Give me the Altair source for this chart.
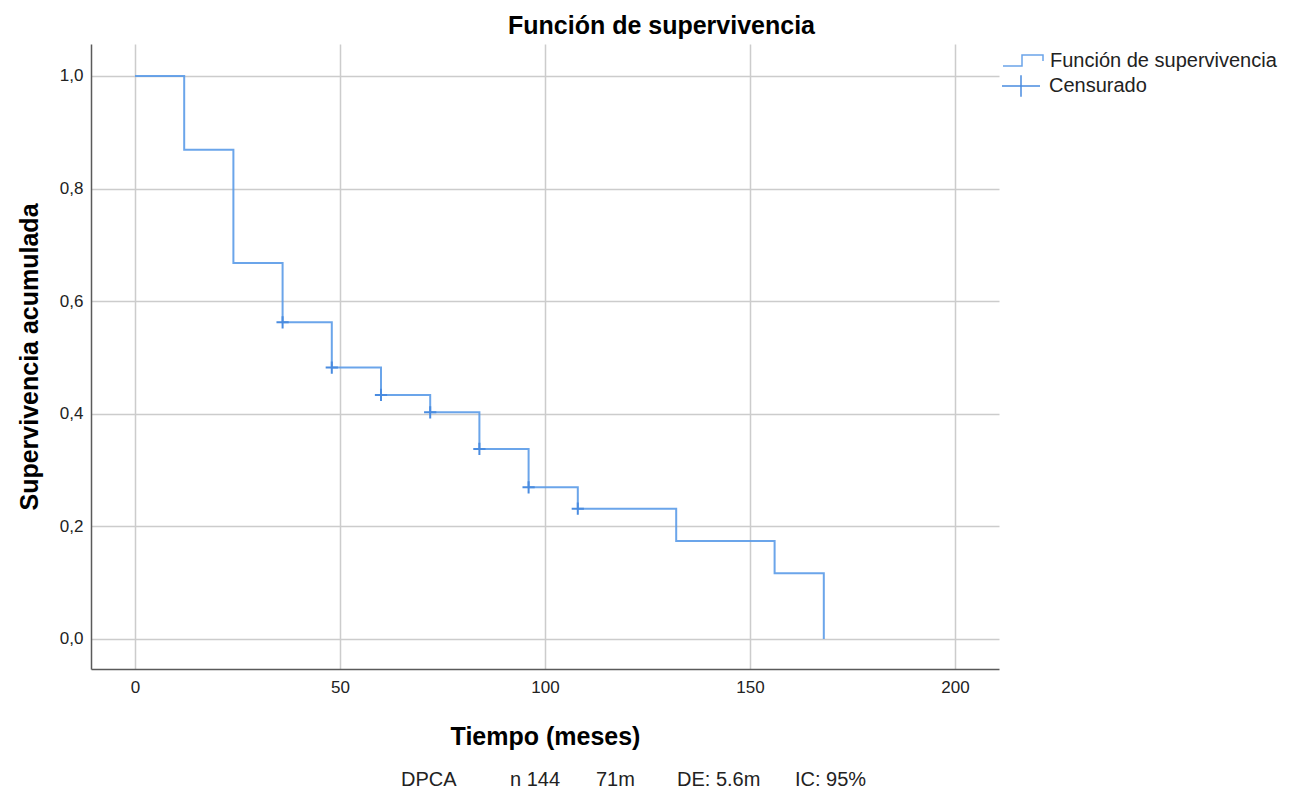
import altair as alt
import pandas as pd

# ---- data ----
tiempo = [0, 12, 24, 36, 48, 60, 72, 84, 96, 108, 132, 156, 168]
supervivencia = [1.0, 0.869, 0.668, 0.5625, 0.482, 0.4334, 0.4026, 0.3375, 0.2694, 0.2315, 0.174, 0.1167, 0.0]
censura_tiempo = [36, 48, 60, 72, 84, 96, 108]
censura_superv = [0.5625, 0.482, 0.4334, 0.4026, 0.3375, 0.2694, 0.2315]
x_ticks = [0, 50, 100, 150, 200]
y_ticks = [0.0, 0.2, 0.4, 0.6, 0.8, 1.0]
serie_nombre = ["Función de supervivencia"]
censura_nombre = ["Censurado"]
titulo = "Función de supervivencia"
pie_textos = ["DPCA", "n 144", "71m", "DE: 5.6m", "IC: 95%"]

# ---- layout (pixels, relative to the plot area) ----
pie_x = [310, 419, 505, 586, 704]
PIE_Y = 742
TITULO_X = 570.5
TITULO_Y = -10

FONT = "Liberation Sans, Arial, sans-serif"
BLUE = "#5b9be8"

df_km = pd.DataFrame({"tiempo": tiempo, "superv": supervivencia, "serie": serie_nombre[0]})
df_cens = pd.DataFrame({"tiempo": censura_tiempo, "superv": censura_superv, "tipo": censura_nombre[0]})

x_scale = alt.Scale(domain=[-10.73, 210.73], nice=False, zero=False)
y_scale = alt.Scale(domain=[-0.0533, 1.0568], nice=False, zero=False)

x_axis = alt.Axis(values=x_ticks, title="Tiempo (meses)", labelPadding=10,
                  titleBaseline="alphabetic", titleY=75)
y_axis = alt.Axis(values=y_ticks, format=".1f", labelExpr="replace(datum.label, '.', ',')",
                  title="Supervivencia acumulada", labelPadding=8,
                  titleBaseline="alphabetic", titleX=-53.5)

step_path = "M-1,0.25H-0.05V-0.3H1V0"
cross_legend = "M-1,0H1M0,-0.56V0.56"
cross_mark = "M-1,0H1M0,-1V1"

linea = alt.Chart(df_km).mark_line(interpolate="step-after", strokeWidth=2, opacity=0.9).encode(
    x=alt.X("tiempo:Q", scale=x_scale, axis=x_axis),
    y=alt.Y("superv:Q", scale=y_scale, axis=y_axis),
    color=alt.Color("serie:N", scale=alt.Scale(domain=serie_nombre, range=[BLUE]),
                    legend=alt.Legend(title=None, orient="none", legendX=911, legendY=-4,
                                      symbolType=step_path, symbolSize=1600,
                                      symbolStrokeWidth=1.5, labelOffset=6, padding=0,
                                      labelFontSize=20, labelFont=FONT, labelColor="#222",
                                      labelLimit=400)),
)

puntos = alt.Chart(df_cens).mark_point(shape=cross_mark, filled=False, size=150,
                                       strokeWidth=2, opacity=1).encode(
    x=alt.X("tiempo:Q", scale=x_scale, axis=x_axis),
    y=alt.Y("superv:Q", scale=y_scale, axis=y_axis),
    color=alt.Color("tipo:N", scale=alt.Scale(domain=censura_nombre, range=["#4a8ce0"]),
                    legend=alt.Legend(title=None, orient="none", legendX=910, legendY=22,
                                      symbolType=cross_legend, symbolSize=1444,
                                      symbolStrokeWidth=1.5, labelOffset=8, padding=0,
                                      labelFontSize=20, labelFont=FONT, labelColor="#222",
                                      labelLimit=400)),
)

titulo_capa = alt.Chart(pd.DataFrame({"texto": [titulo]})).mark_text(
    align="center", baseline="alphabetic", fontSize=25, font=FONT, fontWeight="bold",
    color="black"
).encode(x=alt.value(TITULO_X), y=alt.value(TITULO_Y), text="texto:N")

pie = [
    alt.Chart(pd.DataFrame({"texto": [t]})).mark_text(
        align="left", baseline="alphabetic", fontSize=20, font=FONT, color="#222"
    ).encode(x=alt.value(px), y=alt.value(PIE_Y), text="texto:N")
    for t, px in zip(pie_textos, pie_x)
]

chart = alt.layer(linea, puntos, titulo_capa, *pie).resolve_scale(color="independent").properties(
    width=908,
    height=625,
    autosize=alt.AutoSizeParams(type="none"),
    padding={"left": 83, "top": 36, "right": 289, "bottom": 121},
).configure_view(strokeWidth=0).configure_axis(
    domainColor="#5a5a5a", domainWidth=1.5, ticks=False, tickSize=0,
    grid=True, gridColor="#cccccc", gridWidth=1.5,
    labelFont=FONT, labelFontSize=17, labelColor="#222",
    titleFont=FONT, titleFontSize=25, titleFontWeight="bold", titleColor="black",
)

chart.save("out.html", embed_options={"renderer": "svg", "actions": False})
